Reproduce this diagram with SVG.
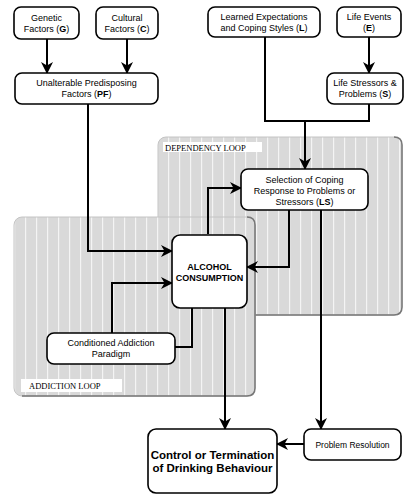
<svg xmlns="http://www.w3.org/2000/svg" width="412" height="495" viewBox="0 0 412 495">
<defs>
<pattern id="stripes" patternUnits="userSpaceOnUse" width="11" height="20" x="3" y="0">
<rect width="11" height="20" fill="#d9d9d9"/>
<rect x="0" width="1.2" height="20" fill="#f4f4f4"/>
</pattern>
<marker id="arr" viewBox="0 0 12 12" refX="11" refY="6" markerWidth="12" markerHeight="12" markerUnits="userSpaceOnUse" orient="auto">
<path d="M0,0 L12,6 L0,12 L3.5,6 Z" fill="#000"/>
</marker>
<style>
.node rect{fill:#fff;stroke:#000;stroke-width:1.6}
.t{font-family:"Liberation Sans",Arial,sans-serif;font-size:9px;fill:#000;text-anchor:middle}
.b{font-weight:bold}
.lbl{font-family:"Liberation Serif","Times New Roman",serif;font-size:8.5px;fill:#000}
.conn path{fill:none;stroke:#000;stroke-width:2}
.loop{fill:url(#stripes);stroke:#c4c4c4;stroke-width:1}
.shadow{fill:none;stroke:#777;stroke-width:1.5}
</style>
</defs>
<rect width="412" height="495" fill="#fff"/>

<g id="dependency-loop">
<rect class="loop" x="158" y="137" width="244" height="178" rx="8"/>
<path class="shadow" d="M394,137 Q402,137 402,145 L402,307 Q402,315 394,315 L255,315"/>
<rect x="163" y="142" width="99" height="10" fill="#fff"/>
<text class="lbl" x="165" y="150.5">DEPENDENCY LOOP</text>
</g>

<g id="addiction-loop">
<rect class="loop" x="14" y="217" width="241" height="179" rx="8"/>
<path class="shadow" d="M247,217 Q255,217 255,225 L255,388 Q255,396 247,396 L22,396"/>
<rect x="21" y="379" width="101" height="13" fill="#fff"/>
<text class="lbl" x="29" y="389">ADDICTION LOOP</text>
</g>

<g class="conn" id="connectors">
<path d="M47,39 L47,73" marker-end="url(#arr)"/>
<path d="M127,39 L127,73" marker-end="url(#arr)"/>
<path d="M369,37 L369,73" marker-end="url(#arr)"/>
<path d="M88,104 L88,251 L172,251" marker-end="url(#arr)"/>
<path d="M265,37 L265,121 L369,121 L369,104"/>
<path d="M305,121 L305,169" marker-end="url(#arr)"/>
<path d="M208,234 L208,188 L241,188" marker-end="url(#arr)"/>
<path d="M289,210 L289,267 L247,267" marker-end="url(#arr)"/>
<path d="M321,210 L321,429" marker-end="url(#arr)"/>
<path d="M192,308 L192,347 L175,347"/>
<path d="M112,333 L112,283 L172,283" marker-end="url(#arr)"/>
<path d="M225,308 L225,429" marker-end="url(#arr)"/>
<path d="M304,444 L277,444" marker-end="url(#arr)"/>
</g>

<g class="node" id="genetic">
<rect x="14" y="7" width="65" height="32" rx="7"/>
<text class="t" x="46.5" y="21">Genetic</text>
<text class="t" x="46.5" y="32">Factors (<tspan class="b">G</tspan>)</text>
</g>
<g class="node" id="cultural">
<rect x="96" y="7" width="62" height="32" rx="7"/>
<text class="t" x="127" y="21">Cultural</text>
<text class="t" x="127" y="32">Factors (<tspan class="b">C</tspan>)</text>
</g>
<g class="node" id="predisposing">
<rect x="15" y="73" width="143" height="31" rx="7"/>
<text class="t" x="86.5" y="85.5">Unalterable Predisposing</text>
<text class="t" x="86.5" y="96.5">Factors (<tspan class="b">PF</tspan>)</text>
</g>
<g class="node" id="learned">
<rect x="208" y="7" width="112" height="30" rx="7"/>
<text class="t" x="264" y="19.5">Learned Expectations</text>
<text class="t" x="264" y="30.5">and Coping Styles (<tspan class="b">L</tspan>)</text>
</g>
<g class="node" id="life-events">
<rect x="337" y="7" width="64" height="30" rx="7"/>
<text class="t" x="369" y="19.5">Life Events</text>
<text class="t" x="369" y="30.5">(<tspan class="b">E</tspan>)</text>
</g>
<g class="node" id="stressors">
<rect x="327" y="73" width="76" height="31" rx="7"/>
<text class="t" x="365" y="86">Life Stressors &amp;</text>
<text class="t" x="365" y="97">Problems (<tspan class="b">S</tspan>)</text>
</g>
<g class="node" id="selection">
<rect x="241" y="169" width="127" height="41" rx="7"/>
<text class="t" x="304.5" y="183">Selection of Coping</text>
<text class="t" x="304.5" y="194">Response to Problems or</text>
<text class="t" x="304.5" y="205">Stressors (<tspan class="b">LS</tspan>)</text>
</g>
<g class="node" id="alcohol">
<rect x="172" y="235" width="75" height="73" rx="8"/>
<text class="t b" x="209.5" y="269.5">ALCOHOL</text>
<text class="t b" x="209.5" y="280.5">CONSUMPTION</text>
</g>
<g class="node" id="conditioned">
<rect x="47" y="333" width="128" height="31" rx="7"/>
<text class="t" x="111" y="346">Conditioned Addiction</text>
<text class="t" x="111" y="357">Paradigm</text>
</g>
<g class="node" id="control">
<rect x="148" y="429" width="129" height="64" rx="8"/>
<text class="t b" x="212.5" y="459" style="font-size:11.5px">Control or Termination</text>
<text class="t b" x="212.5" y="472" style="font-size:11.5px">of Drinking Behaviour</text>
</g>
<g class="node" id="resolution">
<rect x="304" y="429" width="97" height="31" rx="7"/>
<text class="t" x="352.5" y="447.5" style="font-size:8.5px">Problem Resolution</text>
</g>
</svg>
